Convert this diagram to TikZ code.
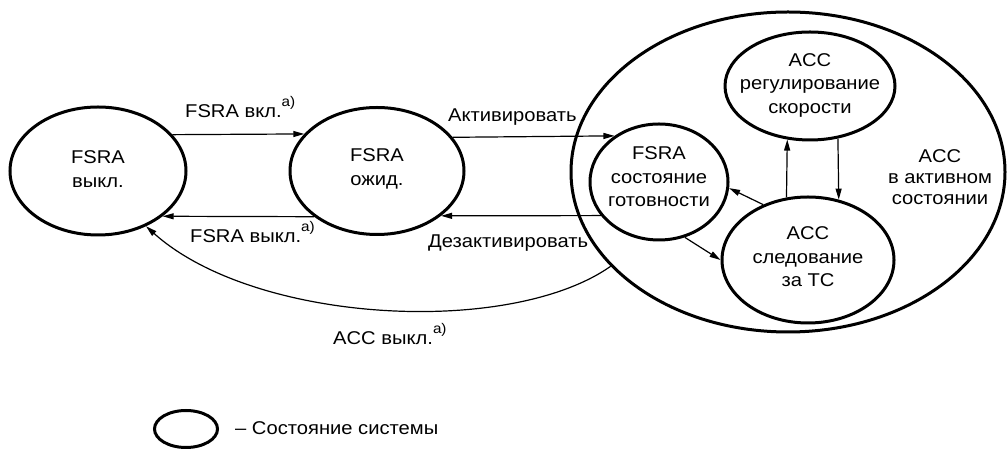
\documentclass[tikz,border=0pt]{standalone}
\usepackage{fontspec}
\setmainfont[FakeStretch=1.09]{Liberation Sans}
\usetikzlibrary{arrows.meta,shapes.geometric,calc}
\newcommand\supa{\raisebox{0.62em}{\fontsize{14}{14}\selectfont a)}}
\begin{document}
\begin{tikzpicture}[x=1pt,y=1pt,
  state/.style={draw,ellipse,line width=3pt,inner sep=0pt},
  lbl/.style={align=center,inner sep=0pt,font=\fontsize{18.5}{23.5}\selectfont},
  arr/.style={-{Triangle[length=11pt,width=6pt]},line width=1.2pt},
  tlabel/.style={font=\fontsize{18.5}{22}\selectfont,anchor=base west,inner sep=0pt}]
\useasboundingbox (0,0) rectangle (1007,449);
% states
\node[state,minimum width=176pt,minimum height=128pt] (off) at (98,278) {};
\node[state,minimum width=174pt,minimum height=127pt] (wait) at (377,278) {};
\node[state,minimum width=434pt,minimum height=320pt] (big) at (788,277) {};
\node[state,minimum width=170pt,minimum height=108pt] (reg) at (810,363) {};
\node[state,minimum width=138pt,minimum height=116pt] (ready) at (659,267) {};
\node[state,minimum width=172pt,minimum height=126pt] (follow) at (808,189) {};
% state texts
\node[lbl,font=\fontsize{18.5}{24}\selectfont] (offt) at ($(off.center)+(0,2)$) {FSRA\\выкл.};
\node[lbl,font=\fontsize{18.5}{24}\selectfont] (waitt) at ($(wait.center)+(0,2)$) {FSRA\\ожид.};
\node[lbl] (regt) at ($(reg.center)+(0,1)$) {ACC\\регулирование\\скорости};
\node[lbl] (readyt) at ($(ready.center)+(0,5)$) {FSRA\\состояние\\готовности};
\node[lbl] (followt) at ($(follow.center)+(0,3)$) {ACC\\следование\\за ТС};
\node[lbl,font=\fontsize{18.5}{21}\selectfont] (activet) at (940,272) {ACC\\в активном\\состоянии};
% transitions
\draw[arr] (off.26.3) -- (wait.153.3);
\draw[arr] (wait.216.2) -- (off.-35.7);
\draw[arr] (wait.24.8) -- (ready.134);
\draw[arr] (ready.210.2) -- (wait.-35.1);
\draw[arr] (follow.109) -- (reg.-113.9);
\draw[arr] (reg.-62.2) -- (follow.63.9);
\draw[arr] (follow.129) -- (ready.-5);
\draw[arr] (ready.-65) -- (follow.180);
\draw[arr] (big.208.7) .. controls (510,112) and (255,125) .. (off.-49.3);
% transition labels
\node[tlabel] (l1) at (185,331) {FSRA вкл.\supa};
\node[tlabel] (l2) at (190,206) {FSRA выкл.\supa};
\node[tlabel] (l3) at (448,327) {Активировать};
\node[tlabel] (l4) at (428,201) {Дезактивировать};
\node[tlabel] (l5) at (333,104) {ACC выкл.\supa};
% legend
\node[state,minimum width=63pt,minimum height=37pt] (leg) at (186,20) {};
\node[tlabel] (legt) at (235,14) {– Состояние системы};
\end{tikzpicture}
\end{document}
